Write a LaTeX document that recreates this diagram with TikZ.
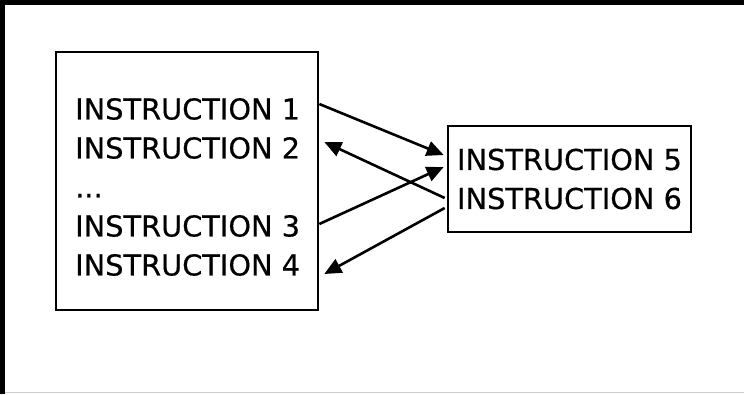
\documentclass[tikz,border=0pt]{standalone}
\usepackage{fontspec}
\setmainfont{DejaVu Sans}[FakeBold=0.5]
\usetikzlibrary{arrows.meta}
\begin{document}
\begin{tikzpicture}[x=1pt,y=-1pt,
  box/.style={draw,line width=2.6pt,inner sep=0pt},
  label/.style={inner sep=0pt,align=left,font=\fontsize{28.8}{39}\selectfont},
  arr/.style={line width=2.6pt,-{Triangle[length=17pt,width=15pt]}}]
  \useasboundingbox (0,0) rectangle (744,394);
  % window edges
  \fill[black] (0,0) rectangle (744,5);
  \fill[black] (0,0) rectangle (5,394);
  \draw[black!20,line width=1pt] (5,392.5) -- (744,392.5);
  % boxes
  \node[box,minimum width=262pt,minimum height=258pt] (lbox) at (187,181) {};
  \node[label,anchor=west] (ltext) at (75,187)
    {INSTRUCTION 1\\INSTRUCTION 2\\...\\INSTRUCTION 3\\INSTRUCTION 4};
  \node[box,label,minimum width=243pt,minimum height=106pt] (rbox) at (569.5,179)
    {INSTRUCTION 5\\INSTRUCTION 6};
  % control transfers
  \draw[arr] ([yshift=77pt]lbox.east) -- ([xshift=-3pt,yshift=24pt]rbox.west);
  \draw[arr] ([xshift=-2pt,yshift=-19pt]rbox.west) -- ([xshift=5pt,yshift=39pt]lbox.east);
  \draw[arr] ([yshift=-43pt]lbox.east) -- ([xshift=-3pt,yshift=12pt]rbox.west);
  \draw[arr] ([xshift=-2pt,yshift=-29pt]rbox.west) -- ([xshift=5pt,yshift=-93pt]lbox.east);
\end{tikzpicture}
\end{document}
